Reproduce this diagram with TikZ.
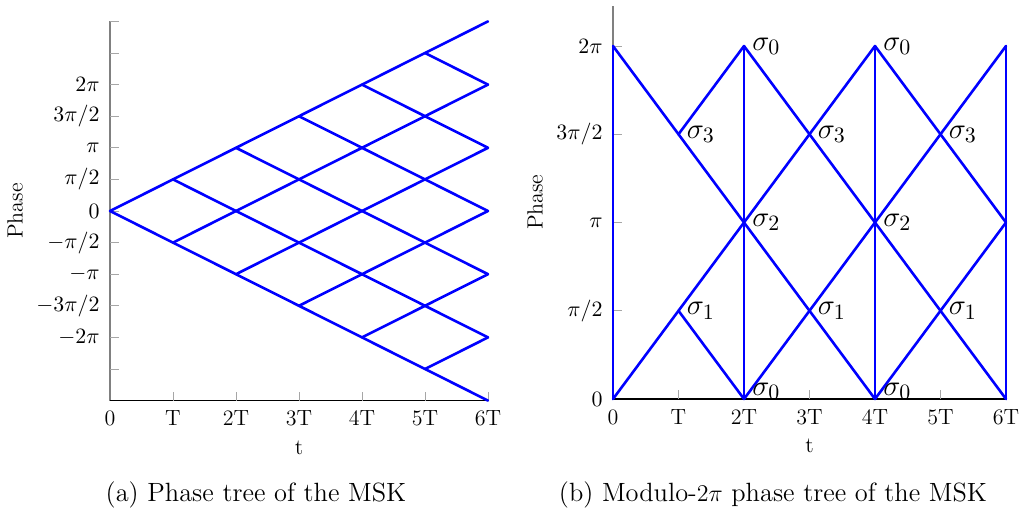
\documentclass[tikz,border=0pt]{standalone}
\begin{document}
\begin{tikzpicture}[x=0.5pt,y=-0.5pt,
  tree/.style={blue,line width=1.3pt,line join=round,line cap=round},
  yaxisline/.style={gray,line width=0.7pt},
  xaxisline/.style={black,line width=0.6pt},
  tickmark/.style={gray!70,line width=0.5pt},
  ticklab/.style={font=\fontsize{11}{13}\selectfont,inner sep=2pt},
  siglab/.style={font=\fontsize{15.5}{18}\selectfont,anchor=west,inner sep=4pt},
  caption/.style={font=\fontsize{13.2}{16}\selectfont}]
\useasboundingbox (0,0) rectangle (1023,515);
% ---------------- left plot ----------------
\begin{scope}[shift={(110,211)},x=31.5pt,y=15.8pt]
  \draw[yaxisline] (0,-6) -- (0,6);
  \foreach \j in {-6,...,6} \draw[tickmark] (0,\j) -- ++(4.5pt,0);
  \draw[xaxisline] (0,-6) -- (6,-6);
  \foreach \k in {1,...,6} \draw[tickmark] (\k,-6) -- ++(0,4.5pt);
  \foreach \m in {0,...,5} {
    \draw[tree] (\m,-\m) -- (6,{6-2*\m});
    \draw[tree] (\m,\m) -- (6,{2*\m-6});
  }
  \foreach \j/\l in {4/{2\pi},3/{3\pi/2},2/{\pi},1/{\pi/2},0/{0},-1/{-\pi/2},-2/{-\pi},-3/{-3\pi/2},-4/{-2\pi}}
    \node[ticklab,anchor=east] (ly\j) at ([xshift=-3pt]0,\j) {$\l$};
  \node[ticklab,anchor=north] (lx0) at ([yshift=-3pt]0,-6) {0};
  \node[ticklab,anchor=north] (lx1) at ([yshift=-3pt]1,-6) {T};
  \foreach \k in {2,...,6}
    \node[ticklab,anchor=north] (lx\k) at ([yshift=-3pt]\k,-6) {\k T};
  \node[ticklab] (lt) at ([yshift=-23.5pt]3,-6) {t};
  \node[ticklab,rotate=90] (lphase) at ([xshift=-47.5pt]0,0) {Phase};
\end{scope}
% ---------------- right plot ----------------
\begin{scope}[shift={(613,399)},x=32.75pt,y=44.125pt]
  \draw[yaxisline] (0,0) -- (0,4.45);
  \foreach \j in {1,...,4} \draw[tickmark] (0,\j) -- ++(4.5pt,0);
  \draw[xaxisline] (0,0) -- (6,0);
  \foreach \k in {1,...,6} \draw[tickmark] (\k,0) -- ++(0,4.5pt);
  % branches
  \draw[tree] (0,0) -- (0,4);
  \draw[tree] (2,0) -- (2,4);
  \draw[tree] (4,0) -- (4,4);
  \draw[tree] (6,0) -- (6,4);
  \draw[tree] (0,4) -- (4,0);
  \draw[tree] (0,0) -- (4,4);
  \draw[tree] (1,1) -- (2,0);
  \draw[tree] (1,3) -- (2,4);
  \draw[tree] (2,4) -- (6,0);
  \draw[tree] (2,0) -- (6,4);
  \draw[tree] (4,4) -- (6,2);
  \draw[tree] (4,0) -- (6,2);
  % state labels
  \node[siglab] (s0a) at (2,4) {$\sigma_0$};
  \node[siglab] (s0b) at (4,4) {$\sigma_0$};
  \node[siglab] (s0c) at ([yshift=4pt]2,0) {$\sigma_0$};
  \node[siglab] (s0d) at ([yshift=4pt]4,0) {$\sigma_0$};
  \node[siglab] (s2a) at (2,2) {$\sigma_2$};
  \node[siglab] (s2b) at (4,2) {$\sigma_2$};
  \foreach \k in {1,3,5} {
    \node[siglab] (s3\k) at (\k,3) {$\sigma_3$};
    \node[siglab] (s1\k) at (\k,1) {$\sigma_1$};
  }
  \foreach \j/\l in {4/{2\pi},3/{3\pi/2},2/{\pi},1/{\pi/2},0/{0}}
    \node[ticklab,anchor=east] (ry\j) at ([xshift=-3pt]0,\j) {$\l$};
  \node[ticklab,anchor=north] (rx0) at ([yshift=-3pt]0,0) {0};
  \node[ticklab,anchor=north] (rx1) at ([yshift=-3pt]1,0) {T};
  \foreach \k in {2,...,6}
    \node[ticklab,anchor=north] (rx\k) at ([yshift=-3pt]\k,0) {\k T};
  \node[ticklab] (rt) at ([yshift=-23.5pt]3,0) {t};
  \node[ticklab,rotate=90] (rphase) at ([xshift=-39pt]0,2.23) {Phase};
\end{scope}
% ---------------- captions ----------------
\node[caption] (capa) at (256,495) {(a) Phase tree of the MSK};
\node[caption] (capb) at (773,495) {(b) Modulo-$2\pi$ phase tree of the MSK};
\end{tikzpicture}
\end{document}
